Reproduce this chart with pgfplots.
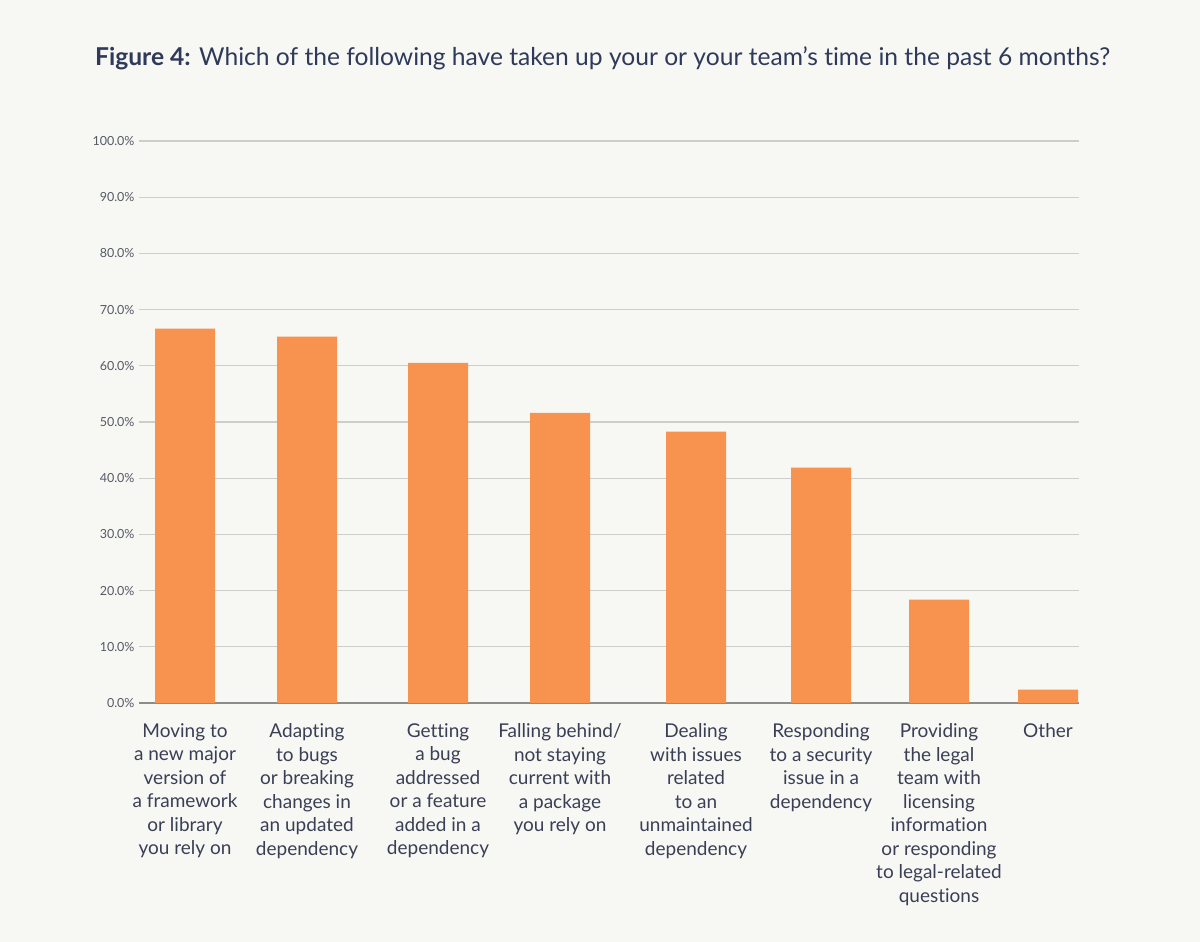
\documentclass[border=0pt]{standalone}
\usepackage{fontspec}
\setmainfont{Lato}[Ligatures=NoCommon]
\usepackage{pgfplots}
\pgfplotsset{compat=1.18}
\definecolor{bg}{HTML}{F7F7F4}
\definecolor{barorange}{HTML}{F7934F}
\definecolor{txt}{HTML}{3A3F55}
\definecolor{titlec}{HTML}{2F3A5A}
\definecolor{gridc}{HTML}{CDCDCB}
\definecolor{basec}{HTML}{8C8C8C}
\definecolor{tickc}{HTML}{555A66}
\begin{document}
\begin{tikzpicture}[x=1bp,y=1bp]
\fill[bg] (0,0) rectangle (1200,942);
\node[anchor=west, text=titlec, inner sep=0pt, font=\fontsize{24.6bp}{28bp}\selectfont] at (95,884) {\textbf{Figure 4:} Which of the following have taken up your or your team’s time in the past 6 months?};
\begin{axis}[
  at={(139bp,239bp)}, anchor=origin,
  scale only axis, width=940bp, height=562bp,
  xmin=139, xmax=1079, ymin=0, ymax=100,
  axis line style={draw=none},
  major tick length=0pt,
  ytick={0,10,...,100},
  yticklabels={0.0\%,10.0\%,20.0\%,30.0\%,40.0\%,50.0\%,60.0\%,70.0\%,80.0\%,90.0\%,100.0\%},
  yticklabel style={font=\fontsize{12.5bp}{14bp}\selectfont, text=tickc, xshift=-1bp},
  ymajorgrids, grid style={gridc, line width=1.2bp},
  extra y ticks={0}, extra y tick labels={},
  extra y tick style={grid style={basec, line width=1.2bp}},
  xtick=data,
  xticklabels={{Moving to\\a new major\\version of\\a framework\\or library\\you rely on},
    {Adapting\\to bugs\\or breaking\\changes in\\an updated\\dependency},
    {Getting\\a bug\\addressed\\or a feature\\added in a\\dependency},
    {Falling behind/\\not staying\\current with\\a package\\you rely on},
    {Dealing\\with issues\\related\\to an\\unmaintained\\dependency},
    {Responding\\to a security\\issue in a\\dependency},
    {Providing\\the legal\\team with\\licensing\\information\\or responding\\to legal-related\\questions},
    {Other}},
  xticklabel style={font=\fontsize{19bp}{23.5bp}\selectfont, text=txt, align=center, anchor=north, yshift=-17bp},
  clip=false,
]
\addplot[ybar, fill=barorange, draw=none, bar width=60] coordinates {
(185,66.6) (307,65.2) (438,60.5) (560,51.6) (696,48.3) (821,41.9) (939,18.4) (1048,2.4)};
\end{axis}
\end{tikzpicture}
\end{document}
